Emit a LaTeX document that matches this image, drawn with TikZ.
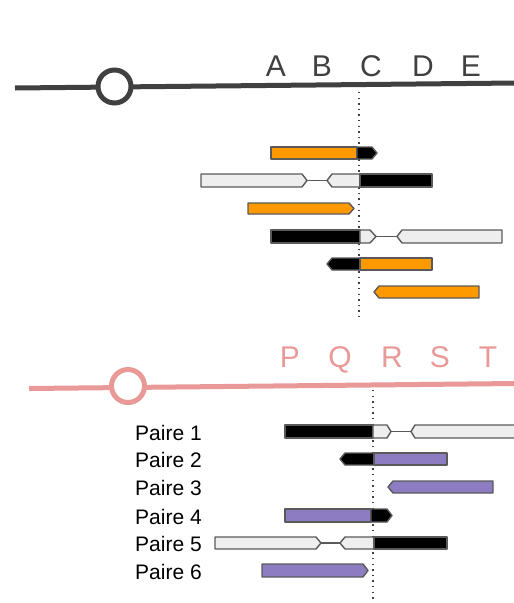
\documentclass[tikz,border=0pt]{standalone}
\usepackage{fontspec}
\setmainfont{Liberation Sans}
\definecolor{axisgray}{HTML}{404040}
\definecolor{axispink}{HTML}{E99A98}
\definecolor{geneorange}{HTML}{FF9900}
\definecolor{genepurple}{HTML}{8E7CC3}
\definecolor{genewhite}{HTML}{EEEEEE}
\definecolor{geneedge}{HTML}{5A5A5A}

\begin{document}
\begin{tikzpicture}[x=1pt, y=-1pt,
    gene/.style = {draw=geneedge, line width=1.4pt, line join=round},
    link/.style = {draw=geneedge, line width=1.2pt},
    axis/.style = {line width=5pt},
    knot/.style = {draw, circle, fill=white, line width=5pt, minimum size=33pt, inner sep=0pt},
    site/.style = {anchor=base, inner sep=0pt, font=\fontsize{30}{36}\selectfont},
    pair/.style = {anchor=base west, inner sep=0pt, font=\fontsize{21}{25}\selectfont},
    cut/.style  = {line width=1.3pt, dash pattern=on 1.3pt off 4.3pt}]
    \useasboundingbox (0,0) rectangle (514,603);

    % top axis
    \coordinate (topleft) at (15,88);
    \coordinate (topright) at (516,83);
    \draw[axis, axisgray] (topleft) -- (topright);
    \node[knot, draw=axisgray] (topknot) at (114.5,86.5) {};
    \node[site, text=axisgray] (A) at (276,76) {A};
    \node[site, text=axisgray] (B) at (322,76) {B};
    \node[site, text=axisgray] (C) at (371,76) {C};
    \node[site, text=axisgray] (D) at (423,76) {D};
    \node[site, text=axisgray] (E) at (471,76) {E};
    \coordinate (topcutstart) at (359,92);
    \coordinate (topcutend) at (359,318);
    \draw[cut, axisgray] (topcutstart) -- (topcutend);

    % top genes
    \draw[gene, fill=geneorange] (271,147) rectangle (357,159);
    \draw[gene, fill=black] (357,147) -- (372,147) -- (377,153) -- (372,159) -- (357,159) -- cycle;

    \draw[link] (307,180.5) -- (327,180.5);
    \draw[gene, fill=genewhite] (201,174) -- (302,174) -- (307,180.5) -- (302,187) -- (201,187) -- cycle;
    \draw[gene, fill=genewhite] (327,180.5) -- (332,174) -- (360,174) -- (360,187) -- (332,187) -- cycle;
    \draw[gene, fill=black] (360,174) rectangle (432,187);

    \draw[gene, fill=geneorange] (248,203) -- (349,203) -- (354,208.5) -- (349,214) -- (248,214) -- cycle;

    \draw[link] (376,236.5) -- (397,236.5);
    \draw[gene, fill=black] (271,230) rectangle (360,243);
    \draw[gene, fill=genewhite] (360,230) -- (370,230) -- (376,236.5) -- (370,243) -- (360,243) -- cycle;
    \draw[gene, fill=genewhite] (397,236.5) -- (402,230) -- (502,230) -- (502,243) -- (402,243) -- cycle;

    \draw[gene, fill=black] (327,264) -- (332,258) -- (360,258) -- (360,270) -- (332,270) -- cycle;
    \draw[gene, fill=geneorange] (360,258) rectangle (432,270);

    \draw[gene, fill=geneorange] (374,292) -- (379,286) -- (479,286) -- (479,298) -- (379,298) -- cycle;

    % bottom axis
    \coordinate (botleft) at (29,388.5);
    \coordinate (botright) at (516,383.5);
    \draw[axis, axispink] (botleft) -- (botright);
    \node[knot, draw=axispink] (botknot) at (128,386) {};
    \node[site, text=axispink] (P) at (290,367) {P};
    \node[site, text=axispink] (Q) at (340,367) {Q};
    \node[site, text=axispink] (R) at (392,367) {R};
    \node[site, text=axispink] (S) at (440,367) {S};
    \node[site, text=axispink] (T) at (488,367) {T};
    \coordinate (botcutstart) at (373,390);
    \coordinate (botcutend) at (373,603);
    \draw[cut, axisgray] (botcutstart) -- (botcutend);

    % pairs
    \node[pair] (paire1) at (135,440) {Paire 1};
    \node[pair] (paire2) at (135,467.5) {Paire 2};
    \node[pair] (paire3) at (135,495.5) {Paire 3};
    \node[pair] (paire4) at (135,524) {Paire 4};
    \node[pair] (paire5) at (135,551.5) {Paire 5};
    \node[pair] (paire6) at (135,579) {Paire 6};

    % bottom genes
    \draw[link] (391,431.5) -- (411,431.5);
    \draw[gene, fill=black] (285,425) rectangle (373,438);
    \draw[gene, fill=genewhite] (373,425) -- (387,425) -- (391,431.5) -- (387,438) -- (373,438) -- cycle;
    \draw[gene, fill=genewhite] (411,431.5) -- (415,425) -- (520,425) -- (520,438) -- (415,438) -- cycle;

    \draw[gene, fill=black] (340,459) -- (345,453) -- (374,453) -- (374,465) -- (345,465) -- cycle;
    \draw[gene, fill=genepurple] (374,453) rectangle (447,465);

    \draw[gene, fill=genepurple] (388,487) -- (393,481) -- (493,481) -- (493,493) -- (393,493) -- cycle;

    \draw[gene, fill=genepurple] (285,509) rectangle (371,522);
    \draw[gene, fill=black] (371,509) -- (387,509) -- (392,515.5) -- (387,522) -- (371,522) -- cycle;

    \draw[link] (321,543) -- (340,543);
    \draw[gene, fill=genewhite] (215,537) -- (316,537) -- (321,543) -- (316,549) -- (215,549) -- cycle;
    \draw[gene, fill=genewhite] (340,543) -- (345,537) -- (374,537) -- (374,549) -- (345,549) -- cycle;
    \draw[gene, fill=black] (374,537) rectangle (447,549);

    \draw[gene, fill=genepurple] (262,564) -- (363,564) -- (368,570.5) -- (363,577) -- (262,577) -- cycle;
\end{tikzpicture}
\end{document}
